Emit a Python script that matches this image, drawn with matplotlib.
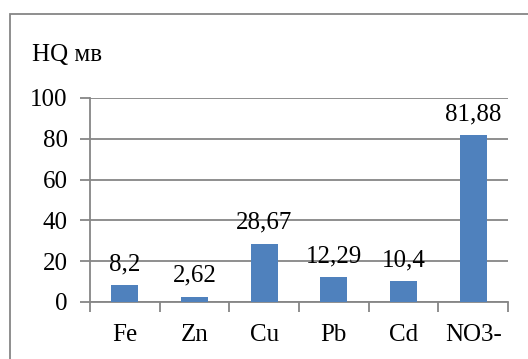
import matplotlib.pyplot as plt
from matplotlib import font_manager as fm
from matplotlib.patches import Rectangle

elements = ['Fe', 'Zn', 'Cu', 'Pb', 'Cd', 'NO3-']
hq_values = [8.2, 2.62, 28.67, 12.29, 10.4, 81.88]
value_labels = ['8,2', '2,62', '28,67', '12,29', '10,4', '81,88']
y_ticks = [0, 20, 40, 60, 80, 100]

serif_path = fm.findfont(fm.FontProperties(family='Liberation Serif'))
font = fm.FontProperties(fname=serif_path, size=18)
W, H = 528, 359
fig = plt.figure(figsize=(W / 100, H / 100), dpi=100)

# chart frame (open to the right and bottom)
fig.patches.append(Rectangle((10 / W, -0.1), 1.2, 1.1 - 14 / H, transform=fig.transFigure,
                             fill=False, edgecolor='#868686', linewidth=1.3))

ax = fig.add_axes([90 / W, 1 - 302 / H, (508 - 90) / W, (302 - 98) / H])
x = range(len(elements))
ax.bar(x, hq_values, width=0.39, color='#4F81BD', zorder=3)
for xi, v, lab in zip(x, hq_values, value_labels):
    ax.annotate(lab, (xi, v), xytext=(0, 7), textcoords='offset points',
                ha='center', va='bottom', fontproperties=font, zorder=4)

ax.set_xlim(-0.5, len(elements) - 0.5)
ax.set_ylim(0, 100)
ax.set_yticks(y_ticks)
ax.set_yticklabels([str(t) for t in y_ticks], fontproperties=font)
ax.set_xticks([i + 0.5 for i in range(-1, len(elements))], minor=False)
ax.set_xticklabels([])
ax.set_xticks(list(x), minor=True)
ax.set_xticklabels(elements, minor=True, fontproperties=font)
ax.tick_params(axis='x', which='major', length=7, color='#868686', width=1.3)
ax.tick_params(axis='x', which='minor', length=0, pad=16)
ax.tick_params(axis='y', length=7, color='#868686', width=1.3, pad=9)
ax.yaxis.grid(True, color='#868686', linewidth=1.3, zorder=0)
for s in ['top', 'right']:
    ax.spines[s].set_visible(False)
for s in ['left', 'bottom']:
    ax.spines[s].set_color('#868686')
    ax.spines[s].set_linewidth(1.3)

fig.text(32 / W, 1 - 55 / H, 'HQ мв', fontproperties=font, va='center', ha='left')

fig.savefig('out.png', dpi=100)
